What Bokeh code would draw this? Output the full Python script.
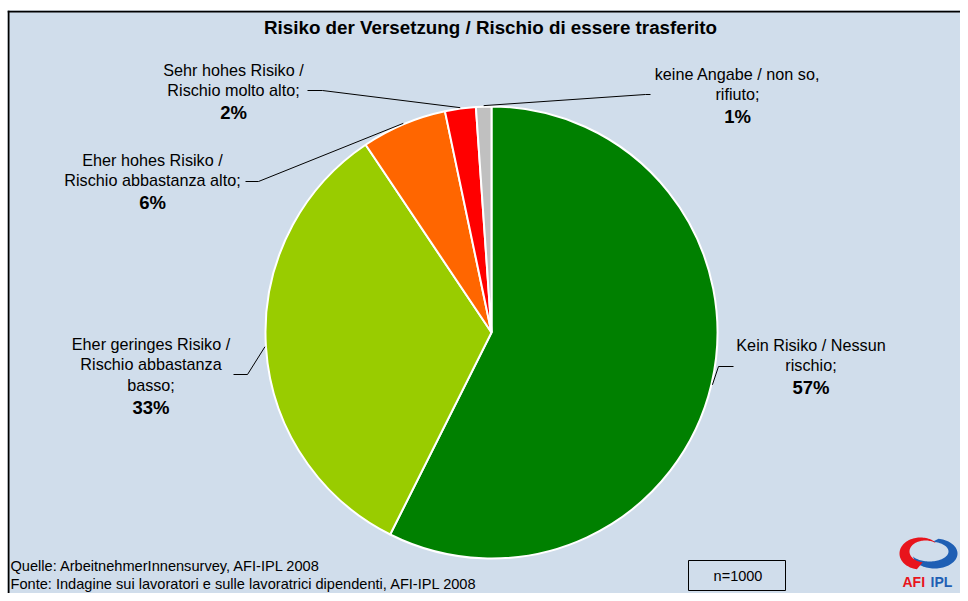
import numpy as np
from bokeh.plotting import figure
from bokeh.models import Range1d, Span, ColumnDataSource
from bokeh.embed import file_html
from bokeh.resources import INLINE
from bokeh.core.properties import value

# ---------------- data ----------------
title = "Risiko der Versetzung / Rischio di essere trasferito"
categories = [
    "Kein Risiko / Nessun rischio",
    "Eher geringes Risiko / Rischio abbastanza basso",
    "Eher hohes Risiko / Rischio abbastanza alto",
    "Sehr hohes Risiko / Rischio molto alto",
    "keine Angabe / non so, rifiuto",
]
label_lines = [
    ["Kein Risiko / Nessun", "rischio;"],
    ["Eher geringes Risiko /", "Rischio abbastanza", "basso;"],
    ["Eher hohes Risiko /", "Rischio abbastanza alto;"],
    ["Sehr hohes Risiko /", "Rischio molto alto;"],
    ["keine Angabe / non so,", "rifiuto;"],
]
values = [57.4, 33.2, 6.1, 2.2, 1.1]
colors = ["#008000", "#99CC00", "#FF6600", "#FF0000", "#C0C0C0"]
source_de = "Quelle: ArbeitnehmerInnensurvey, AFI-IPL 2008"
source_it = "Fonte: Indagine sui lavoratori e sulle lavoratrici dipendenti, AFI-IPL 2008"
sample_note = "n=1000"

# ---------------- layout (px, reference coordinates) ----------------
BG = "#D0DDEB"
FONT = "Liberation Sans"
W, H = 960, 593
LEFT, TOP = 7, 10
CX, CY, R = 491, 332, 226
label_x = [810.5, 150.5, 152, 233, 737]
label_top = [344, 343, 159, 69, 73]
LINE_H = 20.6
PCT_GAP = 22.5
elbows = [(718, 366), (247, 374), (258, 181), (322, 90), (645, 94)]
ends = [(733, 366), (233, 374), (245, 181), (307, 90), (650, 94)]


def sy(y):
    return H - y


p = figure(width=W, height=H, x_range=Range1d(LEFT, W), y_range=Range1d(0, H - TOP),
           output_backend="svg", toolbar_location=None,
           x_axis_location=None, y_axis_location=None,
           min_border_left=LEFT, min_border_right=0, min_border_top=TOP, min_border_bottom=0,
           background_fill_color=BG, border_fill_color="white", outline_line_color=None)
p.grid.visible = False

# frame border (top and left are visible in the reference)
p.add_layout(Span(location=sy(11), dimension="width", line_color="black", line_width=2))
p.add_layout(Span(location=8, dimension="height", line_color="black", line_width=2))

# ---------------- pie ----------------
vals = np.array(values, dtype=float)
frac = vals / vals.sum()
cum_end = np.cumsum(frac)
cum_start = cum_end - frac
start_angle = np.pi / 2 - 2 * np.pi * cum_end
end_angle = np.pi / 2 - 2 * np.pi * cum_start

pie_src = ColumnDataSource(dict(cat=categories, val=values, color=colors,
                                start=start_angle, end=end_angle))
p.wedge(x=CX, y=sy(CY), radius=R, start_angle="start", end_angle="end",
        fill_color="color", line_color="white", line_width=2, source=pie_src)

# ---------------- leader lines ----------------
mid = np.pi / 2 - 2 * np.pi * (cum_start + cum_end) / 2
xs, ys = [], []
for i in range(len(values)):
    x0 = CX + (R + 1) * np.cos(mid[i])
    y0 = sy(CY) + (R + 1) * np.sin(mid[i])
    xs.append([x0, elbows[i][0], ends[i][0]])
    ys.append([y0, sy(elbows[i][1]), sy(ends[i][1])])
p.multi_line(xs=xs, ys=ys, line_color="black", line_width=1)

# ---------------- labels ----------------
tx, ty, tt = [], [], []
px, py, pt = [], [], []
for i, lines in enumerate(label_lines):
    for j, ln in enumerate(lines):
        tx.append(label_x[i]); ty.append(sy(label_top[i] + j * LINE_H)); tt.append(ln)
    px.append(label_x[i]); py.append(sy(label_top[i] + (len(lines) - 1) * LINE_H + PCT_GAP))
    pt.append(f"{round(values[i])}%")

p.text(x=tx, y=ty, text=tt, text_font=value(FONT), text_font_size="16.2px",
       text_align="center", text_baseline="middle", text_color="black")
p.text(x=px, y=py, text=pt, text_font=value(FONT), text_font_size="18.5px",
       text_font_style="bold", text_align="center", text_baseline="middle", text_color="black")

# title
p.text(x=[490], y=[sy(27)], text=[title], text_font=value(FONT), text_font_size="18.8px",
       text_font_style="bold", text_align="center", text_baseline="middle", text_color="black")

# sources
p.text(x=[10, 10], y=[sy(565), sy(583)], text=[source_de, source_it], text_font=value(FONT),
       text_font_size="14.6px", text_align="left", text_baseline="middle", text_color="black")

# n box
p.quad(left=[688], right=[785], top=[sy(560)], bottom=[sy(590)], fill_color=BG,
       line_color="black", line_width=1)
p.text(x=[737.5], y=[sy(575)], text=[sample_note], text_font=value(FONT),
       text_font_size="14.5px", text_align="center", text_baseline="middle", text_color="black")


# ---------------- logo (decorative) ----------------
def crescent(cxo, cyo, ao, bo, cxi, cyi, ai, bi, t0, t1):
    t = np.linspace(np.radians(t0), np.radians(t1), 60)
    ox = cxo + ao * np.cos(t); oy = cyo + bo * np.sin(t)
    ix = cxi + ai * np.cos(t[::-1]); iy = cyi + bi * np.sin(t[::-1])
    return list(np.concatenate([ox, ix])), [sy(v) for v in np.concatenate([oy, iy])]


bx, byy = crescent(934, 553, 23, 15, 929, 551, 19, 10, -80, 150)
rx, ry = crescent(920, 553, 21, 16, 925, 551, 16, 11, 100, 310)
p.patches(xs=[bx, rx], ys=[byy, ry], fill_color=["#1F5FB4", "#E8141C"], line_color=None)
p.text(x=[902], y=[sy(581)], text=["AFI"], text_font=value(FONT), text_font_size="14px",
       text_font_style="bold", text_color="#E8141C", text_baseline="middle")
p.text(x=[930], y=[sy(581)], text=["IPL"], text_font=value(FONT), text_font_size="14px",
       text_font_style="bold", text_color="#1F5FB4", text_baseline="middle")

open("out.html", "w").write(file_html(p, INLINE))
